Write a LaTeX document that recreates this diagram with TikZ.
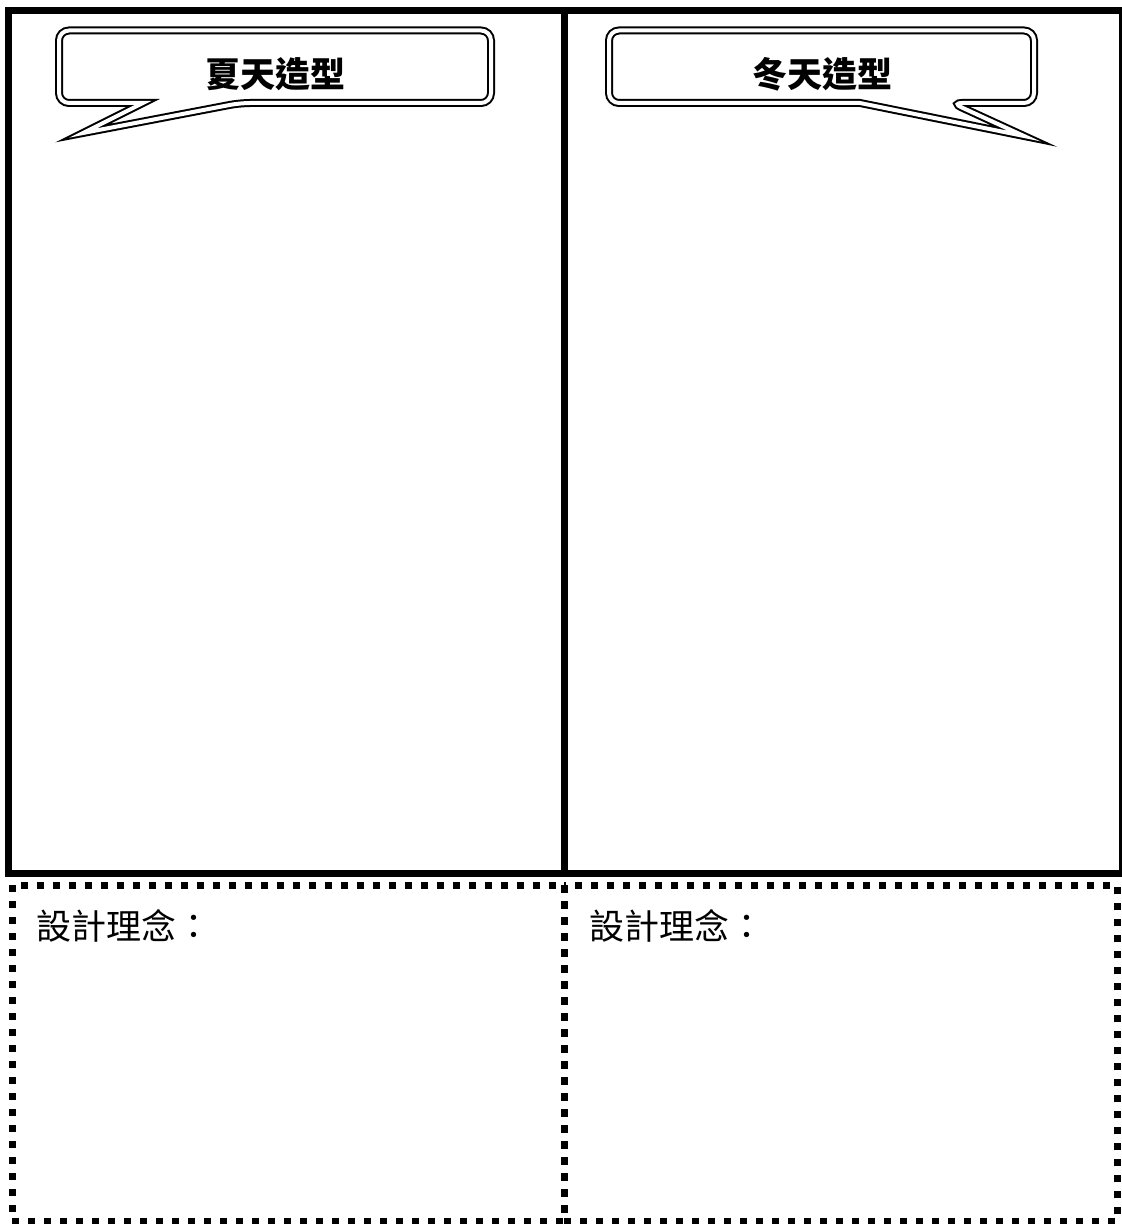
\documentclass[tikz,border=0pt]{standalone}
\usepackage{fontspec}
\newfontfamily\cjk{Noto Sans CJK TC}
\usepackage{tikz}
\usetikzlibrary{positioning,calc}
\tikzset{
  outerframe/.style={line width=3.5pt},
  dotbox/.style={line width=3.5pt, dash pattern=on 3.5pt off 4.5pt},
  callout/.style={line width=1pt, double=white, double distance=2pt, rounded corners=5pt},
  headtext/.style={font=\cjk\bfseries\fontsize{17.5pt}{20pt}\selectfont, inner sep=0pt},
  ideatext/.style={font=\cjk\fontsize{17.5pt}{20pt}\selectfont, anchor=west, inner sep=0pt}
}

\begin{document}
\begin{tikzpicture}[x=0.5pt,y=-0.5pt]
  \useasboundingbox (0,0) rectangle (1121,1224);
  % solid frame and divider
  \draw[outerframe] (8.5,11) rectangle (1122,873);
  \draw[outerframe] (564.5,11) -- (564.5,873);
  % dotted boxes
  \draw[dotbox] (12,885) rectangle (564,1221);
  \draw[dotbox] (564,885) rectangle (1117,1221);
  % speech bubbles
  \draw[callout] (275,30.5) -- (491,30.5) -- (491,103) -- (240,103) [sharp corners] -- (83,133) -- (143,103) [rounded corners=5pt] -- (59,103) -- (59,30.5) -- cycle;
  \draw[callout] (820,30.5) -- (1034,30.5) -- (1034,103) -- (952,103) [sharp corners] -- (1024,136) -- (860,103) [rounded corners=5pt] -- (609,103) -- (609,30.5) -- cycle;
  \node[headtext] (summer) at (275,74) {夏天造型};
  \node[headtext] (winter) at (822,74) {冬天造型};
  \node[ideatext] (ideaL) at (36,926) {設計理念：};
  \node[ideatext] (ideaR) at (589,926) {設計理念：};
\end{tikzpicture}
\end{document}
